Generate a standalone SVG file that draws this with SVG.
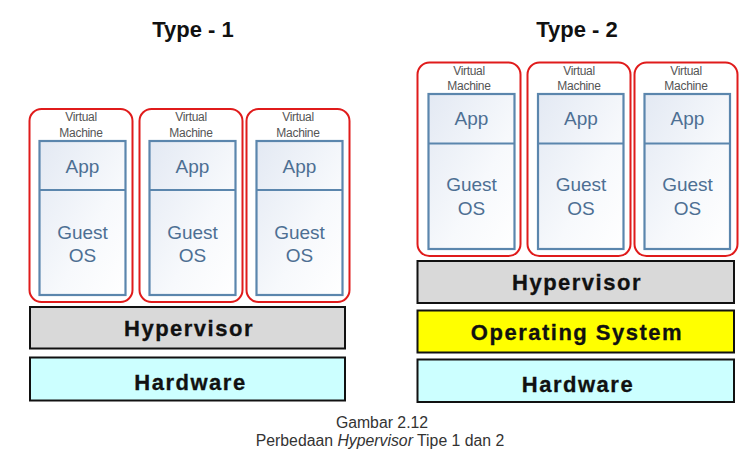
<svg xmlns="http://www.w3.org/2000/svg" width="755" height="466" viewBox="0 0 755 466">
<defs>
<linearGradient id="g" x1="0" y1="0" x2="1" y2="1">
<stop offset="0" stop-color="#e3e9f3"/>
<stop offset="0.6" stop-color="#f7f9fc"/>
<stop offset="1" stop-color="#ffffff"/>
</linearGradient>
</defs>
<style>
.vm{fill:#ffffff;stroke:#e01b1b;stroke-width:2}
.in{fill:url(#g);stroke:#5b86ad;stroke-width:2.2}
.vt{font-family:"Liberation Sans",Arial,sans-serif;font-size:12px;fill:#555555;text-anchor:middle;letter-spacing:-0.3px}
.lb{font-family:"Liberation Sans",Arial,sans-serif;font-size:19px;fill:#4d6f93;text-anchor:middle}
.bar{stroke:#111111;stroke-width:2}
.bt{font-family:"Liberation Sans",Arial,sans-serif;font-size:22px;font-weight:bold;fill:#111111;stroke:#111111;stroke-width:0.3;text-anchor:middle;letter-spacing:1.5px}
.tt{font-family:"Liberation Sans",Arial,sans-serif;font-size:22px;font-weight:bold;fill:#111111;text-anchor:middle}
.cap{font-family:"Liberation Sans",Arial,sans-serif;font-size:15.8px;fill:#333333;text-anchor:middle}
</style>
<rect width="755" height="466" fill="#ffffff"/>
<text class="tt" x="193" y="37">Type - 1</text>
<text class="tt" x="577" y="37">Type - 2</text>

<g id="t1-vm1">
<rect class="vm" x="29.5" y="109" width="103" height="193" rx="12"/>
<text class="vt" x="81" y="121">Virtual</text><text class="vt" x="81" y="137">Machine</text>
<rect class="in" x="39.5" y="141" width="86" height="154"/>
<line x1="39.5" y1="190" x2="125.5" y2="190" stroke="#5b86ad" stroke-width="2.2"/>
<text class="lb" x="82.5" y="172.5">App</text>
<text class="lb" x="82.5" y="238.5">Guest</text><text class="lb" x="82.5" y="262">OS</text>
</g>
<g id="t1-vm2">
<rect class="vm" x="139.5" y="109" width="103" height="193" rx="12"/>
<text class="vt" x="191" y="121">Virtual</text><text class="vt" x="191" y="137">Machine</text>
<rect class="in" x="149.5" y="141" width="86" height="154"/>
<line x1="149.5" y1="190" x2="235.5" y2="190" stroke="#5b86ad" stroke-width="2.2"/>
<text class="lb" x="192.5" y="172.5">App</text>
<text class="lb" x="192.5" y="238.5">Guest</text><text class="lb" x="192.5" y="262">OS</text>
</g>
<g id="t1-vm3">
<rect class="vm" x="246.5" y="109" width="103" height="193" rx="12"/>
<text class="vt" x="298" y="121">Virtual</text><text class="vt" x="298" y="137">Machine</text>
<rect class="in" x="256.5" y="141" width="86" height="154"/>
<line x1="256.5" y1="190" x2="342.5" y2="190" stroke="#5b86ad" stroke-width="2.2"/>
<text class="lb" x="299.5" y="172.5">App</text>
<text class="lb" x="299.5" y="238.5">Guest</text><text class="lb" x="299.5" y="262">OS</text>
</g>
<g id="t1-hypervisor">
<rect class="bar" x="30" y="307" width="315" height="41.5" fill="#d9d9d9"/>
<text class="bt" x="189" y="336">Hypervisor</text>
</g>
<g id="t1-hardware">
<rect class="bar" x="30" y="357.5" width="315" height="43" fill="#ccffff"/>
<text class="bt" x="190.5" y="389.5">Hardware</text>
</g>

<g id="t2-vm1">
<rect class="vm" x="417.5" y="62.5" width="103" height="193.5" rx="12"/>
<text class="vt" x="469" y="74.5">Virtual</text><text class="vt" x="469" y="89.5">Machine</text>
<rect class="in" x="428.5" y="94" width="86" height="155"/>
<line x1="428.5" y1="143.5" x2="514.5" y2="143.5" stroke="#5b86ad" stroke-width="2.2"/>
<text class="lb" x="471.5" y="125">App</text>
<text class="lb" x="471.5" y="191">Guest</text><text class="lb" x="471.5" y="215">OS</text>
</g>
<g id="t2-vm2">
<rect class="vm" x="527.5" y="62.5" width="103" height="193.5" rx="12"/>
<text class="vt" x="579" y="74.5">Virtual</text><text class="vt" x="579" y="89.5">Machine</text>
<rect class="in" x="538" y="94" width="85.5" height="155"/>
<line x1="538" y1="143.5" x2="623.5" y2="143.5" stroke="#5b86ad" stroke-width="2.2"/>
<text class="lb" x="581" y="125">App</text>
<text class="lb" x="581" y="191">Guest</text><text class="lb" x="581" y="215">OS</text>
</g>
<g id="t2-vm3">
<rect class="vm" x="634.5" y="62.5" width="103" height="193.5" rx="12"/>
<text class="vt" x="686" y="74.5">Virtual</text><text class="vt" x="686" y="89.5">Machine</text>
<rect class="in" x="644.5" y="94" width="85.5" height="155"/>
<line x1="644.5" y1="143.5" x2="730" y2="143.5" stroke="#5b86ad" stroke-width="2.2"/>
<text class="lb" x="687.5" y="125">App</text>
<text class="lb" x="687.5" y="191">Guest</text><text class="lb" x="687.5" y="215">OS</text>
</g>
<g id="t2-hypervisor">
<rect class="bar" x="417.5" y="261" width="316.5" height="42" fill="#d9d9d9"/>
<text class="bt" x="577" y="289.5">Hypervisor</text>
</g>
<g id="t2-os">
<rect class="bar" x="417.5" y="310.5" width="316.5" height="42" fill="#ffff00"/>
<text class="bt" x="577" y="339.5">Operating System</text>
</g>
<g id="t2-hardware">
<rect class="bar" x="417.5" y="359.5" width="316.5" height="42.5" fill="#ccffff"/>
<text class="bt" x="578" y="391.5">Hardware</text>
</g>

<g id="connectors"/>

<text class="cap" x="382" y="428">Gambar 2.12</text>
<text class="cap" x="380" y="446">Perbedaan <tspan font-style="italic">Hypervisor</tspan> Tipe 1 dan 2</text>
</svg>
